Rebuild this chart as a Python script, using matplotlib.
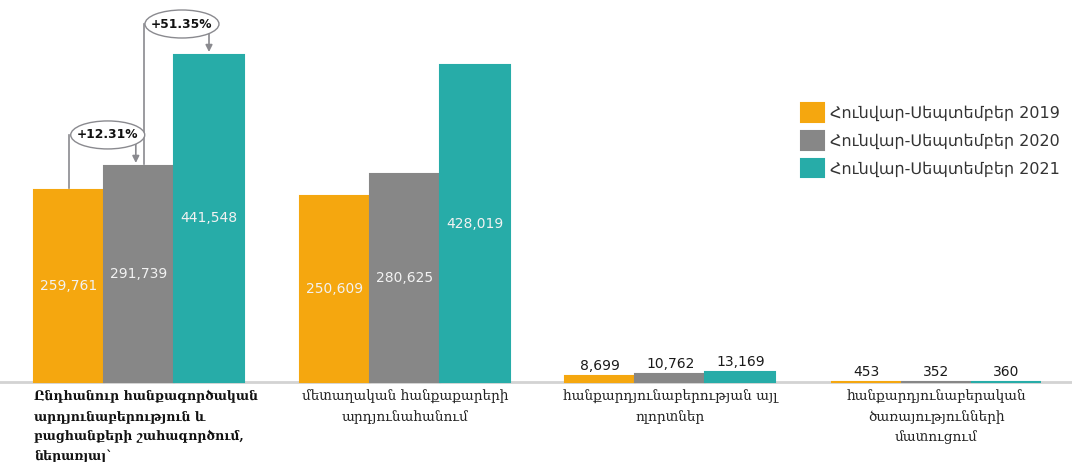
import matplotlib.pyplot as plt
from matplotlib.patches import Ellipse
import numpy as np

categories = [
    "Ընդհանուր հանքագործական\nարդյունաբերություն և\nբացհանքերի շահագործում,\nներառյալ`",
    "մետաղական հանքաքարերի\nարդյունահանում",
    "հանքարդյունաբերության այլ\nոլորտներ",
    "հանքարդյունաբերական\nծառայությունների\nմատուցում",
]
series_names = [
    "Հունվար-Սեպտեմբեր 2019",
    "Հունվար-Սեպտեմբեր 2020",
    "Հունվար-Սեպտեմբեր 2021",
]
values_2019 = [259761, 250609, 8699, 453]
values_2020 = [291739, 280625, 10762, 352]
values_2021 = [441548, 428019, 13169, 360]
growth_labels = ["+12.31%", "+51.35%"]

colors = ["#F5A70F", "#878787", "#27ACA8"]
series = [values_2019, values_2020, values_2021]

fig = plt.figure(figsize=(10.72, 4.62), dpi=100)
ax = fig.add_axes([0, 80 / 462, 1, 382 / 462])

x = np.arange(len(categories))
group_px = 265.7  # pixels per category step
width = 70 / group_px
ymax = max(values_2021) * 382 / 327
px = ymax / 382  # data units per pixel (vertical)

for i, (vals, col, name) in enumerate(zip(series, colors, series_names)):
    pos = x + (i - 1) * width
    bars = ax.bar(pos, vals, width=width, color=col, edgecolor=col,
                  linewidth=1.5, label=name, zorder=3)
    for b in bars:
        b.set_clip_on(False)
    for xp, v in zip(pos, vals):
        txt = f"{v:,}"
        if v > 100000:
            ax.text(xp, v / 2, txt, ha="center", va="center", color="#F2F2F2",
                    fontsize=10, zorder=4)
        else:
            ax.text(xp, v + 3 * px, txt, ha="center", va="bottom",
                    color="#1a1a1a", fontsize=10, zorder=4)

ax.set_xlim(-139 / group_px, (1072 - 139) / group_px)
ax.set_ylim(0, ymax)
for s in ["top", "right", "left"]:
    ax.spines[s].set_visible(False)
ax.spines["bottom"].set_color("#D3D3D3")
ax.spines["bottom"].set_linewidth(2)
ax.spines["bottom"].set_zorder(1)
ax.set_yticks([])
ax.set_xticks([])

# category labels
ax.text(x[0] - 1.5 * width, -8 * px, categories[0], ha="left", va="top",
        fontsize=9, fontweight="bold", family="DejaVu Serif",
        linespacing=1.68, color="#111111")
for xi, lab in zip(x[1:], categories[1:]):
    ax.text(xi, -8 * px, lab, ha="center", va="top", fontsize=9.8,
            family="DejaVu Serif", linespacing=1.55, color="#222222")

# growth annotations for the first group
line_col = "#8A8A8F"
for k, lab in enumerate(growth_labels):
    x_from = x[0] + (k - 1) * width + (0.02 if k else 0.0)
    x_to = x[0] + k * width - (0.012 if k == 0 else 0.0)
    h_from = series[k][0]
    h_to = series[k + 1][0]
    y_lab = h_to + 31 * px
    ax.plot([x_from, x_from], [h_from + 2 * px, y_lab], color=line_col,
            lw=1.2, zorder=3)
    ax.annotate("", xy=(x_to, h_to + 3 * px), xytext=(x_to, y_lab),
                arrowprops=dict(arrowstyle="-|>", color=line_col, lw=1.2,
                                mutation_scale=10, shrinkA=0, shrinkB=0),
                zorder=3)
    xc = (x_from + x_to) / 2 + 0.02
    ax.add_patch(Ellipse((xc, y_lab), 74 / group_px, 28 * px, fc="white",
                         ec=line_col, lw=1.0, zorder=5))
    ax.text(xc, y_lab, lab, ha="center", va="center", fontsize=8.8,
            fontweight="bold", color="#111111", zorder=6)

leg = ax.legend(loc="upper left", bbox_to_anchor=(795 / 1072, 1 - 97 / 382),
                frameon=False, fontsize=11.5, handlelength=1.4,
                handleheight=1.4, handletextpad=0.4, labelspacing=0.58,
                borderaxespad=0)
for t in leg.get_texts():
    t.set_color("#333333")

fig.savefig("out.png", dpi=100)
